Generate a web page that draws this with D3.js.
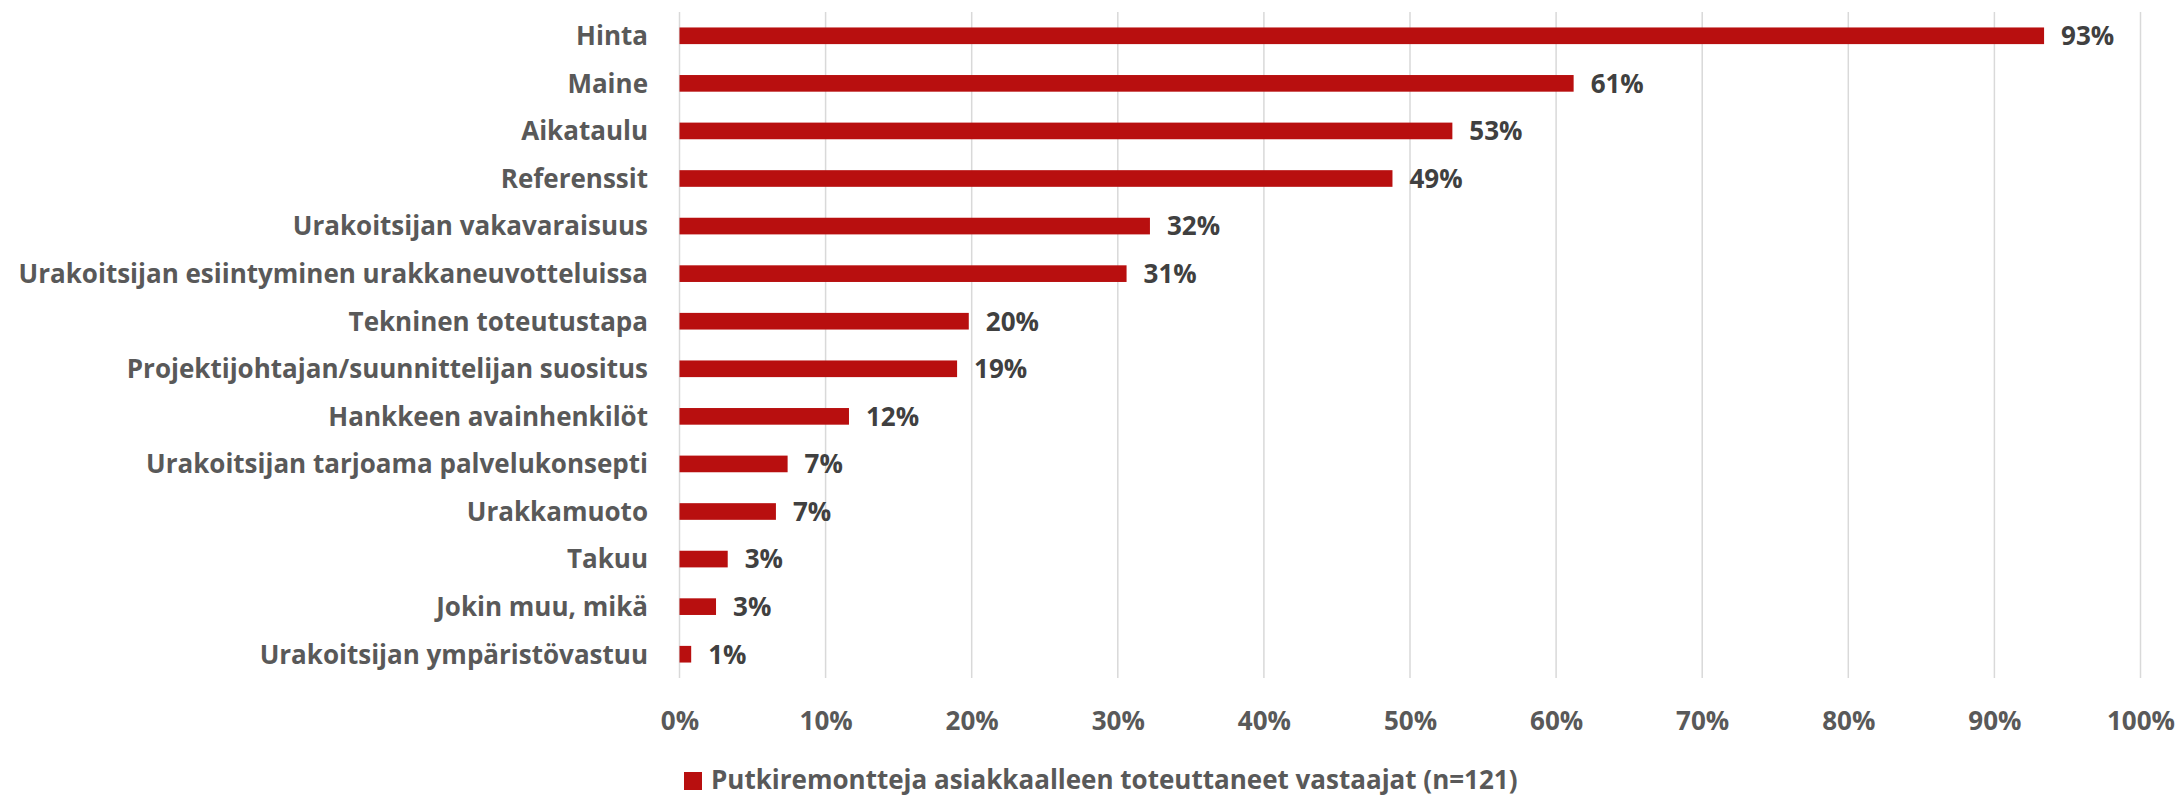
<!DOCTYPE html>
<html>
<head>
<meta charset="utf-8">
<script src="https://cdn.jsdelivr.net/npm/d3@7"></script>
<style>
  html, body { margin: 0; padding: 0; background: #ffffff; }
  svg { display: block; }
  text { font-family: "Open Sans", Lato, sans-serif; font-weight: 700; }
</style>
</head>
<body>
<svg id="chart" width="2180" height="796"></svg>
<script>
const categories = [
  "Hinta",
  "Maine",
  "Aikataulu",
  "Referenssit",
  "Urakoitsijan vakavaraisuus",
  "Urakoitsijan esiintyminen urakkaneuvotteluissa",
  "Tekninen toteutustapa",
  "Projektijohtajan/suunnittelijan suositus",
  "Hankkeen avainhenkilöt",
  "Urakoitsijan tarjoama palvelukonsepti",
  "Urakkamuoto",
  "Takuu",
  "Jokin muu, mikä",
  "Urakoitsijan ympäristövastuu"
];
const values = [0.934, 0.612, 0.529, 0.488, 0.322, 0.306, 0.198, 0.190, 0.116, 0.074, 0.066, 0.033, 0.025, 0.008];
const tickValues = [0, 0.1, 0.2, 0.3, 0.4, 0.5, 0.6, 0.7, 0.8, 0.9, 1.0];
const seriesName = "Putkiremontteja asiakkaalleen toteuttaneet vastaajat (n=121)";

const svg = d3.select("#chart");
const plot = { left: 679.5, right: 2140.5, top: 12, bottom: 678 };
const barColor = "#B80F0F";
const labelColor = "#595959";
const valueColor = "#404040";
const fontSize = 26;
const fontFamily = "'Open Sans', Lato, sans-serif";

const x = d3.scaleLinear().domain([0, 1]).range([plot.left, plot.right]);
const y = d3.scaleBand().domain(categories).range([plot.top, plot.bottom])
  .paddingInner(0.65).paddingOuter(0.325);

// gridlines
svg.append("g").selectAll("line").data(tickValues).join("line")
  .attr("x1", d => x(d)).attr("x2", d => x(d))
  .attr("y1", plot.top).attr("y2", plot.bottom)
  .attr("stroke", "#d9d9d9").attr("stroke-width", 1.5);

// x axis labels
const xAxis = svg.append("g").attr("transform", `translate(0,${plot.bottom})`)
  .call(d3.axisBottom(x).tickValues(tickValues).tickFormat(d3.format(".0%")).tickSize(0).tickPadding(34));
xAxis.select(".domain").remove();
xAxis.selectAll("text").attr("font-family", fontFamily).attr("font-weight", 700)
  .attr("font-size", fontSize).attr("fill", labelColor);

// category labels
svg.append("g").selectAll("text").data(categories).join("text")
  .attr("x", 648).attr("y", d => y(d) + y.bandwidth() / 2).attr("dy", "0.36em")
  .attr("text-anchor", "end").attr("font-size", fontSize).attr("fill", labelColor)
  .text(d => d);

// bars
const data = categories.map((c, i) => ({ c, v: values[i] }));
svg.append("g").selectAll("rect").data(data).join("rect")
  .attr("x", x(0)).attr("y", d => y(d.c))
  .attr("width", d => x(d.v) - x(0)).attr("height", y.bandwidth())
  .attr("fill", barColor);

// value labels
svg.append("g").selectAll("text").data(data).join("text")
  .attr("x", d => x(d.v) + 17).attr("y", d => y(d.c) + y.bandwidth() / 2).attr("dy", "0.36em")
  .attr("font-size", fontSize).attr("fill", valueColor)
  .text(d => d3.format(".0%")(d.v));

// legend
const lg = svg.append("g");
lg.append("rect").attr("x", 684).attr("y", 772).attr("width", 18).attr("height", 18).attr("fill", barColor);
lg.append("text").attr("x", 711).attr("y", 780).attr("dy", "0.36em")
  .attr("font-size", fontSize).attr("fill", labelColor).text(seriesName);
</script>
</body>
</html>
